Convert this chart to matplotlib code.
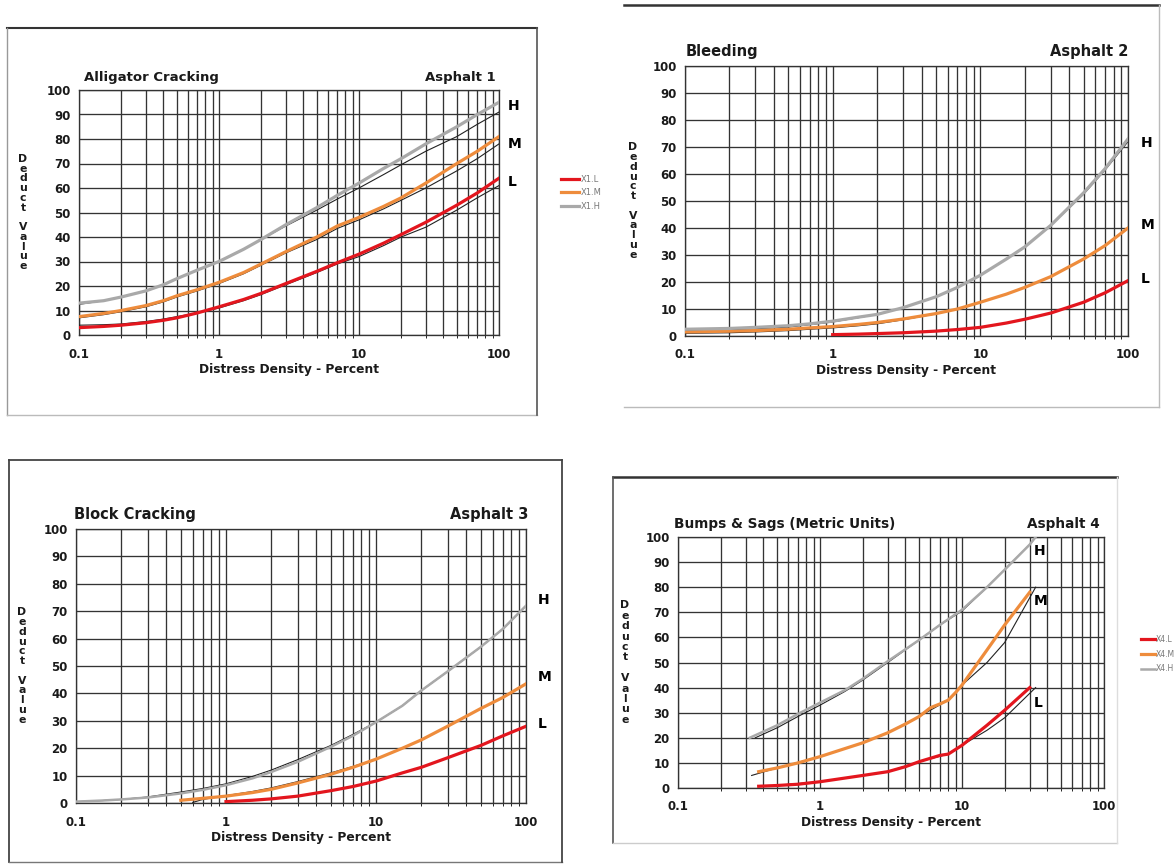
import numpy as np
import matplotlib
matplotlib.use("Agg")
import matplotlib.pyplot as plt
from matplotlib.lines import Line2D
from matplotlib.ticker import LogLocator, FixedLocator, NullFormatter

plt.rcParams['font.family'] = ['DejaVu Sans']

W, H = 1176, 865

RED = '#e3161e'
ORANGE = '#ee8c3c'
GRAY = '#a9a9a9'
INK = '#222222'

# ---- Asphalt 1: Alligator Cracking ----
a1_x = [0.1, 0.15, 0.2, 0.3, 0.4, 0.5, 0.7, 1, 1.5, 2, 3, 5, 7, 10, 15, 20, 30, 50, 70, 100]
a1_H = [13, 14, 15.5, 18, 20.5, 23, 26.5, 30, 35, 39, 45, 52, 57, 62, 68, 72, 78, 85, 90, 95]
a1_M = [7.5, 8.8, 10, 12, 14, 16, 18.5, 21.5, 25.5, 29, 34, 40, 44.5, 48, 52.5, 56, 62, 70, 75, 81]
a1_L = [3, 3.5, 4, 5, 6, 7, 9, 11.5, 14.5, 17, 21, 26, 29.5, 33, 37.5, 41, 46, 53, 58, 64]
# scanned (original) curves under the coloured ones
a1_H_scan = [12.5, 14, 15.5, 18, 20.5, 23, 26.5, 30, 35, 39, 44.5, 51, 55.5, 60, 65.5, 69.5, 75, 81, 86, 91]
a1_M_scan = [7, 8.3, 9.5, 11.5, 13.5, 15.5, 18, 21, 25, 28.5, 33.5, 39, 43.5, 47, 51.5, 55, 60, 67, 72, 78]
a1_L_scan = [4, 4.2, 4.5, 5.5, 6.5, 7.5, 9, 11, 14, 16.5, 20.5, 25.5, 29, 32, 36.5, 40, 44, 51, 56, 61]

# ---- Asphalt 2: Bleeding ----
a2_x = [0.1, 0.2, 0.3, 0.5, 0.7, 1, 1.5, 2, 3, 5, 7, 10, 15, 20, 30, 50, 70, 100]
a2_H = [2.5, 2.8, 3.2, 3.8, 4.5, 5.5, 7, 8, 10.5, 14.5, 18, 22.5, 28.5, 33, 41, 53, 62, 73]
a2_M = [1.5, 1.8, 2, 2.5, 3, 3.5, 4.3, 5, 6.3, 8.3, 10, 12.5, 15.5, 18, 22, 28.5, 33.5, 40]
a2_H_scan = [2, 2.3, 2.7, 3.3, 4.2, 5.2, 6.8, 8, 10.5, 14.5, 18, 22.5, 28.5, 33, 41, 52.5, 61.5, 72]
a2_M_scan = [1, 1.2, 1.5, 2, 2.5, 3, 3.8, 4.5, 6, 8.2, 10, 12.5, 15.5, 18, 22, 28.5, 33.5, 40]
a2_L_x = [1, 1.5, 2, 3, 5, 7, 10, 15, 20, 30, 50, 70, 100]
a2_L = [0.5, 0.7, 0.9, 1.2, 1.8, 2.4, 3.2, 4.8, 6.2, 8.5, 12.5, 16, 20.5]

# ---- Asphalt 3: Block Cracking ----
a3_H_x = [0.1, 0.15, 0.2, 0.3, 0.5, 0.7, 1, 1.5, 2, 3, 5, 7, 10, 15, 20, 30, 50, 70, 100]
a3_H = [0.5, 0.9, 1.3, 2, 3.5, 4.8, 6.5, 9, 11.3, 15, 20.5, 24.5, 29.5, 35.5, 41, 48, 57, 63.5, 72]
a3_H_scan = [0.5, 0.9, 1.3, 2.2, 4, 5.3, 7, 9.7, 12, 15.8, 21, 25, 29.5, 35.5, 41, 48, 57, 63.5, 72]
a3_M_x = [0.5, 0.7, 1, 1.5, 2, 3, 5, 7, 10, 15, 20, 30, 50, 70, 100]
a3_M = [1, 1.7, 2.5, 3.8, 5, 7.3, 10.5, 13, 16, 20, 23, 28, 34.5, 38.5, 43.5]
a3_M_scan_x = [0.6, 0.7, 1, 1.5, 2, 3, 5, 7, 10, 15, 20, 30, 50, 70, 100]
a3_M_scan = [0.2, 1.3, 2.7, 4.2, 5.5, 7.8, 11, 13.3, 16, 20, 23, 28, 34.5, 38.5, 43.5]
a3_L_x = [1, 1.5, 2, 3, 5, 7, 10, 15, 20, 30, 50, 70, 100]
a3_L = [0.5, 1, 1.5, 2.5, 4.5, 6, 8, 11, 13, 16.5, 21, 24.5, 28]

# ---- Asphalt 4: Bumps & Sags ----
a4_H_x = [0.32, 0.4, 0.5, 0.7, 1, 1.5, 2, 3, 5, 7, 10, 15, 20, 30, 33]
a4_H = [20, 22.5, 25, 29.5, 34, 39, 43.5, 50.5, 59, 65, 71, 80, 87, 97, 100]
a4_H_scan_x = [0.35, 0.5, 0.7, 1, 1.5, 2, 3, 5, 7, 10, 15, 20, 30, 33]
a4_H_scan = [20, 24, 28.5, 33, 38.5, 43, 50, 59, 65, 70.5, 80, 87, 97, 100]
a4_M_x = [0.37, 0.5, 0.7, 1, 2, 3, 4, 5, 6, 7, 8, 9, 10, 15, 20, 30]
a4_M = [6.5, 8, 10, 12.5, 18, 22, 25.5, 28.5, 32, 33.5, 35, 38, 41, 55, 65, 78]
a4_M_scan_x = [0.33, 0.5, 1, 2, 3, 5, 8, 10, 15, 20, 33]
a4_M_scan = [5, 8, 12.5, 18, 22, 28.5, 35, 41, 50, 58, 80]
a4_L_x = [0.37, 0.5, 0.7, 1, 2, 3, 4, 5, 7, 8, 10, 15, 20, 30]
a4_L = [0.7, 1, 1.5, 2.5, 5, 6.5, 8.5, 10.5, 13, 13.5, 17, 25, 31, 40]
a4_L_scan_x = [0.37, 1, 2, 3, 5, 8, 10, 15, 20, 33]
a4_L_scan = [0.5, 2.5, 5, 6.5, 10.5, 13.5, 17, 23, 28, 40]

fig = plt.figure(figsize=(W / 100, H / 100), dpi=100)
fig.patch.set_facecolor('white')


def px_axes(x0, top, x1, bottom):
    ax = fig.add_axes([x0 / W, 1 - bottom / H, (x1 - x0) / W, (bottom - top) / H])
    ax._pxw = x1 - x0
    return ax


def fline(x0, y0, x1, y1, color='#444444', lw=1.2):
    fig.add_artist(Line2D([x0 / W, x1 / W], [1 - y0 / H, 1 - y1 / H],
                          transform=fig.transFigure, color=color, lw=lw))


def setup(ax, title, name, tsize, nsize, title_dx, name_dx, ylab_dx, ylab_sp=0.97):
    ax.set_xscale('log')
    ax.set_xlim(0.1, 100)
    ax.set_ylim(0, 100)
    ax.xaxis.set_major_locator(FixedLocator([0.1, 1, 10, 100]))
    ax.set_xticklabels(['0.1', '1', '10', '100'])
    ax.xaxis.set_minor_locator(LogLocator(base=10, subs=range(2, 10)))
    ax.xaxis.set_minor_formatter(NullFormatter())
    ax.set_yticks(range(0, 101, 10))
    ax.grid(True, which='both', color='#333333', lw=0.95)
    ax.set_axisbelow(True)
    for s in ax.spines.values():
        s.set_color('#333333')
        s.set_linewidth(0.95)
    ax.tick_params(length=0, labelsize=8.5, colors='#1a1a1a')
    ax.tick_params(axis='x', pad=9)
    ax.tick_params(axis='y', pad=6)
    for lab in ax.get_xticklabels() + ax.get_yticklabels():
        lab.set_fontweight('bold')
    ax.set_xlabel('Distress Density - Percent', fontsize=8.8, fontweight='bold',
                  labelpad=2, color='#1a1a1a')
    w = ax._pxw
    ax.text(title_dx / w, 1.025, title, transform=ax.transAxes, fontsize=tsize,
            fontweight='bold', ha='left', va='bottom', color='#1a1a1a')
    ax.text(1.0 + name_dx / w, 1.025, name, transform=ax.transAxes, fontsize=nsize,
            fontweight='bold', ha='right', va='bottom', color='#1a1a1a')
    ax.text(ylab_dx / w, 0.5, 'D\ne\nd\nu\nc\nt\n\nV\na\nl\nu\ne', transform=ax.transAxes,
            fontsize=7.8, fontweight='bold', ha='center', va='center',
            linespacing=ylab_sp, color='#1a1a1a')


def hml(ax, ys, dx):
    for lab, yv in zip('HML', ys):
        ax.text(1.0 + dx / ax._pxw, yv, lab, transform=ax.get_yaxis_transform(),
                fontsize=10, fontweight='bold', ha='left', va='center', clip_on=False)


# Panel 1
ax1 = px_axes(79, 90, 499, 335)
setup(ax1, 'Alligator Cracking', 'Asphalt 1', 9.5, 9.5, 5, -3, -56)
for ys in (a1_H_scan, a1_M_scan, a1_L_scan):
    ax1.plot(a1_x, ys, color=INK, lw=0.8, zorder=3)
l1, = ax1.plot(a1_x, a1_L, color=RED, lw=2.3, label='X1.L', zorder=4)
m1, = ax1.plot(a1_x, a1_M, color=ORANGE, lw=2.3, label='X1.M', zorder=4)
h1, = ax1.plot(a1_x, a1_H, color=GRAY, lw=2.3, label='X1.H', zorder=4)
hml(ax1, [93.5, 78, 62.4], 9)
fig.legend(handles=[l1, m1, h1], loc='upper left', bbox_to_anchor=(553 / W, 1 - 167 / H),
           frameon=False, fontsize=6, handlelength=2.2, labelspacing=0.55,
           handletextpad=0.2, labelcolor='#777777')

# Panel 2
ax2 = px_axes(685, 66, 1128, 336)
setup(ax2, 'Bleeding', 'Asphalt 2', 10.5, 10.5, 1, 0, -52)
for ys in (a2_H_scan, a2_M_scan):
    ax2.plot(a2_x, ys, color=INK, lw=0.8, zorder=3)
ax2.plot(a2_L_x, a2_L, color=RED, lw=2.3, zorder=4)
ax2.plot(a2_x, a2_M, color=ORANGE, lw=2.3, zorder=4)
ax2.plot(a2_x, a2_H, color=GRAY, lw=2.3, zorder=4)
hml(ax2, [71.5, 41, 21], 13)

# Panel 3
ax3 = px_axes(76, 529, 526, 803)
setup(ax3, 'Block Cracking', 'Asphalt 3', 10.5, 10.5, -2, 2, -54)
ax3.plot(a3_H_x, a3_H_scan, color=INK, lw=0.8, zorder=3)
ax3.plot(a3_M_scan_x, a3_M_scan, color=INK, lw=0.8, zorder=3)
ax3.plot(a3_L_x, a3_L, color=RED, lw=2.3, zorder=4)
ax3.plot(a3_M_x, a3_M, color=ORANGE, lw=2.3, zorder=4)
ax3.plot(a3_H_x, a3_H, color=GRAY, lw=1.8, zorder=4)
hml(ax3, [74, 46, 29], 12)

# Panel 4
ax4 = px_axes(678, 537, 1104, 788)
setup(ax4, 'Bumps & Sags (Metric Units)', 'Asphalt 4', 9.8, 9.8, -4, -4, -53, 1.05)
ax4.plot(a4_H_scan_x, a4_H_scan, color=INK, lw=0.8, zorder=3)
ax4.plot(a4_M_scan_x, a4_M_scan, color=INK, lw=0.8, zorder=3)
ax4.plot(a4_L_scan_x, a4_L_scan, color=INK, lw=0.8, zorder=3)
l4, = ax4.plot(a4_L_x, a4_L, color=RED, lw=2.3, label='X4.L', zorder=4)
m4, = ax4.plot(a4_M_x, a4_M, color=ORANGE, lw=2.3, label='X4.M', zorder=4)
h4, = ax4.plot(a4_H_x, a4_H, color=GRAY, lw=1.8, label='X4.H', zorder=4)
for lab, xv, yv in zip('HML', [32, 32, 32], [94.4, 74.5, 33.9]):
    ax4.text(xv, yv, lab, fontsize=10, fontweight='bold', ha='left', va='center')
fig.legend(handles=[l4, m4, h4], loc='upper left', bbox_to_anchor=(1134 / W, 1 - 628 / H),
           frameon=False, fontsize=5.5, handlelength=1.8, labelspacing=0.75,
           handletextpad=0.2, labelcolor='#777777')

# page frames of the scanned sheets
fline(7, 28, 537, 28, '#333333', 1.5)
fline(7, 28, 7, 415, '#999999', 1.0)
fline(7, 415, 537, 415, '#bbbbbb', 1.0)
fline(537, 28, 537, 415, '#555555', 1.2)

fline(624, 5, 1159, 5, '#333333', 1.8)
fline(624, 407, 1159, 407, '#bbbbbb', 1.0)
fline(1159, 5, 1159, 407, '#bbbbbb', 1.0)

fline(9, 460, 562, 460, '#444444', 1.3)
fline(9, 460, 9, 862, '#444444', 1.3)
fline(9, 862, 562, 862, '#777777', 1.0)
fline(562, 460, 562, 862, '#444444', 1.3)

fline(613, 477, 1117, 477, '#333333', 1.8)
fline(613, 477, 613, 843, '#555555', 1.2)
fline(613, 843, 1117, 843, '#cccccc', 1.0)
fline(1117, 477, 1117, 843, '#dddddd', 1.0)

fig.savefig('out.png', dpi=100)
